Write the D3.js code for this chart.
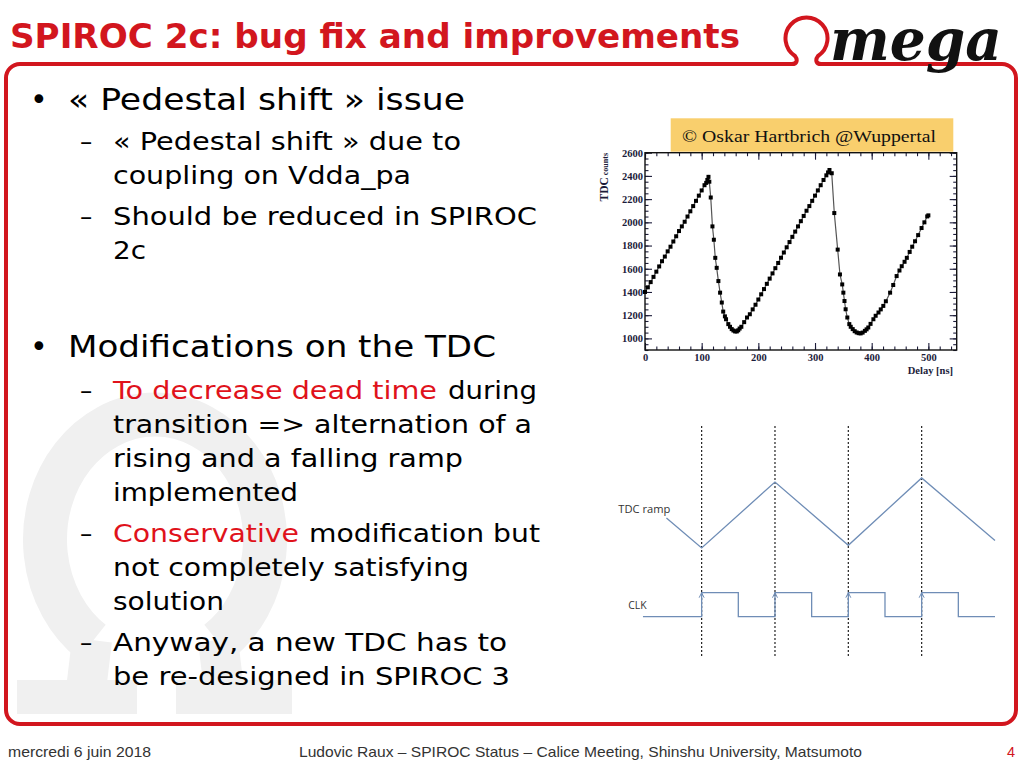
<!DOCTYPE html>
<html><head><meta charset="utf-8">
<script src="https://cdn.jsdelivr.net/npm/d3@7"></script>
<style>body{margin:0;background:#fff}svg{display:block}</style>
</head><body><svg id="s" width="1024" height="768"></svg>
<script>
const delayNs = [0,5,10,15,20,25,30,35,40,45,50,55,60,65,70,75,80,85,90,95,100,105,108,110,112,113.5,116,119,121.5,124,126.5,129.5,132.5,135.5,138,141,143,147,150,153,156,159,162,164.5,167,170,175,180,185,190,195,200,205,210,215,220,225,230,235,240,245,250,255,260,265,270,275,280,285,290,295,300,305,310,315,320,323,325.5,329.5,334,340,344,348,350,352,354,357,360.5,363,366.5,370,373.5,377,380.5,384,388,391,394,398,403,407,412,416,420.5,425,432.5,438,444,449,453,458,462,467,471.5,476.5,482,488,493,498,500];
const tdcCounts = [1400,1440,1485,1530,1575,1620,1665,1705,1750,1790,1835,1880,1925,1965,2005,2050,2095,2140,2185,2230,2275,2320,2340,2365,2392,2350,2214,1965,1850,1694,1608,1494,1394,1309,1231,1190,1165,1123,1100,1080,1068,1060,1060,1070,1085,1100,1140,1180,1208,1250,1290,1335,1380,1425,1470,1515,1560,1605,1650,1695,1740,1785,1830,1875,1920,1965,2010,2055,2100,2140,2185,2230,2275,2320,2365,2405,2430,2451,2423,2080,1765,1551,1465,1394,1322,1251,1180,1123,1100,1080,1062,1051,1045,1043,1050,1065,1078,1094,1125,1165,1195,1223,1250,1280,1320,1394,1460,1537,1585,1622,1660,1694,1745,1790,1837,1890,1951,2000,2051,2060];
const xMajorTicks = [0,100,200,300,400,500];
const xMinorTicks = d3.range(0,551,20);
const yMajorTicks = [1000,1200,1400,1600,1800,2000,2200,2400,2600];
const yMinorTicks = d3.range(900,2601,50);

// ---------- timing diagram ----------
const clkT = [0.2,1,1.5,2,2.5,3,3.5,4,4.5,5];
const clkLevel = [0,1,0,1,0,1,0,1,0,0];
const clkRiseT = [1,2,3,4];
const rampT = [0.52,1,2,3,4,5];
const rampLevel = [0.44,0,0.97,0.04,1.03,0.11];

// ---------- slide text ----------
const titleText = "SPIROC 2c: bug fix and improvements";
const bulletLines = [
  {kind:"bullet", y:110, parts:[{t:"« Pedestal shift » issue", x:68, w:397}]},
  {kind:"dash", y:150, parts:[{t:"« Pedestal shift » due to", x:113, w:348}]},
  {kind:"", y:184, parts:[{t:"coupling on Vdda_pa", x:113, w:298}]},
  {kind:"dash", y:225, parts:[{t:"Should be reduced in SPIROC", x:113, w:424}]},
  {kind:"", y:259, parts:[{t:"2c", x:113, w:33}]},
  {kind:"bullet", y:357, parts:[{t:"Modifications on the TDC", x:68, w:428}]},
  {kind:"dash", y:399, parts:[{t:"To decrease dead time", x:113, w:324, red:true},{t:"during", x:448, w:89}]},
  {kind:"", y:433, parts:[{t:"transition => alternation of a", x:113, w:419}]},
  {kind:"", y:467, parts:[{t:"rising and a falling ramp", x:113, w:350}]},
  {kind:"", y:501, parts:[{t:"implemented", x:113, w:185}]},
  {kind:"dash", y:542, parts:[{t:"Conservative", x:113, w:186, red:true},{t:"modification but", x:309, w:231}]},
  {kind:"", y:576, parts:[{t:"not completely satisfying", x:113, w:356}]},
  {kind:"", y:610, parts:[{t:"solution", x:113, w:111}]},
  {kind:"dash", y:651, parts:[{t:"Anyway, a new TDC  has to", x:113, w:394}]},
  {kind:"", y:685, parts:[{t:"be re-designed in SPIROC 3", x:113, w:397}]}
];
const footerDate = "mercredi 6 juin 2018";
const footerMid = "Ludovic Raux – SPIROC Status – Calice Meeting, Shinshu University, Matsumoto";
const footerPage = "4";

const RED = "#d2161e";
const svg = d3.select("#s");
svg.append("rect").attr("width",1024).attr("height",768).attr("fill","#fff");

// watermark omega
const wm = svg.append("g").attr("fill","none").attr("stroke","#f0f0f0");
wm.append("path").attr("stroke-width",44)
  .attr("d","M 92 642 A 110 125 0 1 1 218 642");
wm.append("path").attr("stroke-width",40).attr("d","M 92 640 L 86 690 M 218 640 L 224 690");
wm.append("rect").attr("x",17).attr("y",680).attr("width",120).attr("height",34).attr("fill","#f0f0f0").attr("stroke","none");
wm.append("rect").attr("x",176).attr("y",680).attr("width",116).attr("height",34).attr("fill","#f0f0f0").attr("stroke","none");

// frame with omega logo
svg.append("path").attr("fill","none").attr("stroke",RED).attr("stroke-width",4)
  .attr("d","M 20 64 L 792 64 C 797 64 798 60 795 56 A 21 21 0 1 1 818 56 C 815 60 816 64 821 64 L 1002 64 A 14 14 0 0 1 1016 78 L 1016 710 A 14 14 0 0 1 1002 724 L 20 724 A 14 14 0 0 1 6 710 L 6 78 A 14 14 0 0 1 20 64 Z");
svg.append("text").text("mega").attr("x",830).attr("y",60)
  .attr("font-family","DejaVu Serif").attr("font-style","italic").attr("font-weight","bold")
  .attr("font-size",58).attr("textLength",172).attr("lengthAdjust","spacingAndGlyphs").attr("fill","#111");

// title
svg.append("text").text(titleText).attr("x",10).attr("y",48)
  .attr("font-family","DejaVu Sans Condensed, DejaVu Sans").attr("font-weight","bold")
  .attr("font-size",34).attr("textLength",730).attr("lengthAdjust","spacingAndGlyphs").attr("fill",RED);

// bullets
const body = svg.append("g").attr("font-family","DejaVu Sans, Verdana");
bulletLines.forEach(l => {
  const fs = (l.parts[0].x===68) ? 30 : 24.5;
  if (l.kind==="bullet") body.append("text").text("•").attr("x",30).attr("y",l.y).attr("font-size",30);
  if (l.kind==="dash") body.append("text").text("–").attr("x",80).attr("y",l.y).attr("font-size",24.5);
  l.parts.forEach(p => {
    body.append("text").text(p.t).attr("x",p.x).attr("y",l.y).attr("font-size",fs)
      .attr("textLength",p.w).attr("lengthAdjust","spacingAndGlyphs")
      .attr("fill",p.red? "#e0121b" : "#000");
  });
});

// ---------- TDC plot ----------
const x = d3.scaleLinear().domain([0,550]).range([645,956.7]);
const y = d3.scaleLinear().domain([900,2600]).range([350,152.7]);
const plotFont = "Liberation Serif, Times New Roman, serif";
const AX = "#1c1c3a";

svg.append("rect").attr("x",670.7).attr("y",118.3).attr("width",282.6).attr("height",33.4).attr("fill","#f9cf6d");
svg.append("text").text("© Oskar Hartbrich @Wuppertal").attr("x",682).attr("y",141.5)
  .attr("font-family",plotFont).attr("font-size",17.5).attr("textLength",254).attr("lengthAdjust","spacingAndGlyphs").attr("fill","#111");

const pg = svg.append("g");
function styleAxis(g){ g.select(".domain").remove(); g.selectAll("line").attr("stroke",AX).attr("stroke-width",1.1);
  g.selectAll("text").attr("font-family",plotFont).attr("font-weight","bold").attr("font-size",10.5).attr("fill",AX); }
pg.append("g").attr("transform","translate(0,350)").call(d3.axisBottom(x).tickValues(xMinorTicks).tickSize(-3.5).tickFormat("")).call(styleAxis);
pg.append("g").attr("transform","translate(0,350)").call(d3.axisBottom(x).tickValues(xMajorTicks).tickSize(-7).tickPadding(4).tickFormat(d3.format("d"))).call(styleAxis);
pg.append("g").attr("transform","translate(0,152.7)").call(d3.axisTop(x).tickValues(xMinorTicks).tickSize(-3.5).tickFormat("")).call(styleAxis);
pg.append("g").attr("transform","translate(0,152.7)").call(d3.axisTop(x).tickValues(xMajorTicks).tickSize(-7).tickFormat("")).call(styleAxis);
pg.append("g").attr("transform","translate(645,0)").call(d3.axisLeft(y).tickValues(yMinorTicks).tickSize(-3.5).tickFormat("")).call(styleAxis);
pg.append("g").attr("transform","translate(645,0)").call(d3.axisLeft(y).tickValues(yMajorTicks).tickSize(-7).tickPadding(2).tickFormat(d3.format("d"))).call(styleAxis);
pg.append("g").attr("transform","translate(956.7,0)").call(d3.axisRight(y).tickValues(yMinorTicks).tickSize(-3.5).tickFormat("")).call(styleAxis);
pg.append("g").attr("transform","translate(956.7,0)").call(d3.axisRight(y).tickValues(yMajorTicks).tickSize(-7).tickFormat("")).call(styleAxis);
pg.append("rect").attr("x",645).attr("y",152.7).attr("width",311.7).attr("height",197.3).attr("fill","none").attr("stroke","#111").attr("stroke-width",1.4);

const pts = delayNs.map((d,i)=>[d,tdcCounts[i]]);
pg.append("path").datum(pts).attr("fill","none").attr("stroke","#555").attr("stroke-width",1.2)
  .attr("d", d3.line().x(d=>x(d[0])).y(d=>y(d[1])));
pg.selectAll("rect.m").data(pts).join("rect").attr("class","m")
  .attr("x",d=>x(d[0])-2).attr("y",d=>y(d[1])-2).attr("width",4).attr("height",4).attr("fill","#000");

svg.append("text").attr("transform","translate(608,153) rotate(-90)").attr("text-anchor","end")
  .attr("font-family",plotFont).attr("font-weight","bold").attr("fill",AX)
  .call(t=>{ t.append("tspan").text("TDC").attr("font-size",11.5); t.append("tspan").text(" counts").attr("font-size",8); });
svg.append("text").text("Delay [ns]").attr("x",953).attr("y",374).attr("text-anchor","end")
  .attr("font-family",plotFont).attr("font-weight","bold").attr("font-size",10.5).attr("fill",AX);

// ---------- timing diagram ----------
const tx = d3.scaleLinear().domain([0,5]).range([628.3,995]);
const ry = d3.scaleLinear().domain([0,1]).range([548,480]);
const cy = d3.scaleLinear().domain([0,1]).range([616.7,592.7]);
const BLUE = "#6f8db6";
const tg = svg.append("g");
tg.selectAll("line.dv").data(clkRiseT).join("line").attr("class","dv")
  .attr("x1",d=>tx(d)).attr("x2",d=>tx(d)).attr("y1",426).attr("y2",658)
  .attr("stroke","#222").attr("stroke-width",1.2).attr("stroke-dasharray","2,2");
tg.append("path").datum(rampT.map((t,i)=>[t,rampLevel[i]])).attr("fill","none").attr("stroke",BLUE).attr("stroke-width",1.3)
  .attr("d", d3.line().x(d=>tx(d[0])).y(d=>ry(d[1])));
tg.append("path").datum(clkT.map((t,i)=>[t,clkLevel[i]])).attr("fill","none").attr("stroke",BLUE).attr("stroke-width",1.3)
  .attr("d", d3.line().curve(d3.curveStepAfter).x(d=>tx(d[0])).y(d=>cy(d[1])));
tg.selectAll("path.ar").data(clkRiseT).join("path").attr("class","ar").attr("fill","none").attr("stroke",BLUE).attr("stroke-width",1)
  .attr("d",d=>`M ${tx(d)-2.5} ${cy(1)+5} L ${tx(d)} ${cy(1)} L ${tx(d)+2.5} ${cy(1)+5}`);
tg.append("text").text("TDC ramp").attr("x",618.3).attr("y",512.5).attr("font-family","Open Sans, Lato, sans-serif")
  .attr("font-size",10.5).attr("textLength",52).attr("lengthAdjust","spacingAndGlyphs").attr("fill","#333");
tg.append("text").text("CLK").attr("x",628.3).attr("y",609).attr("font-family","Open Sans, Lato, sans-serif")
  .attr("font-size",10.5).attr("textLength",18.4).attr("lengthAdjust","spacingAndGlyphs").attr("fill","#333");

// ---------- footer ----------
const ff = "Liberation Sans Narrow, Liberation Sans, Arial, sans-serif";
svg.append("text").text(footerDate).attr("x",8).attr("y",757).attr("font-family",ff).attr("font-size",14.5)
  .attr("textLength",143).attr("lengthAdjust","spacingAndGlyphs").attr("fill","#333");
svg.append("text").text(footerMid).attr("x",299).attr("y",757).attr("font-family",ff).attr("font-size",14.5)
  .attr("textLength",563).attr("lengthAdjust","spacingAndGlyphs").attr("fill","#333");
svg.append("text").text(footerPage).attr("x",1015).attr("y",757).attr("text-anchor","end").attr("font-family",ff).attr("font-size",14.5).attr("fill",RED);
</script></body></html>
